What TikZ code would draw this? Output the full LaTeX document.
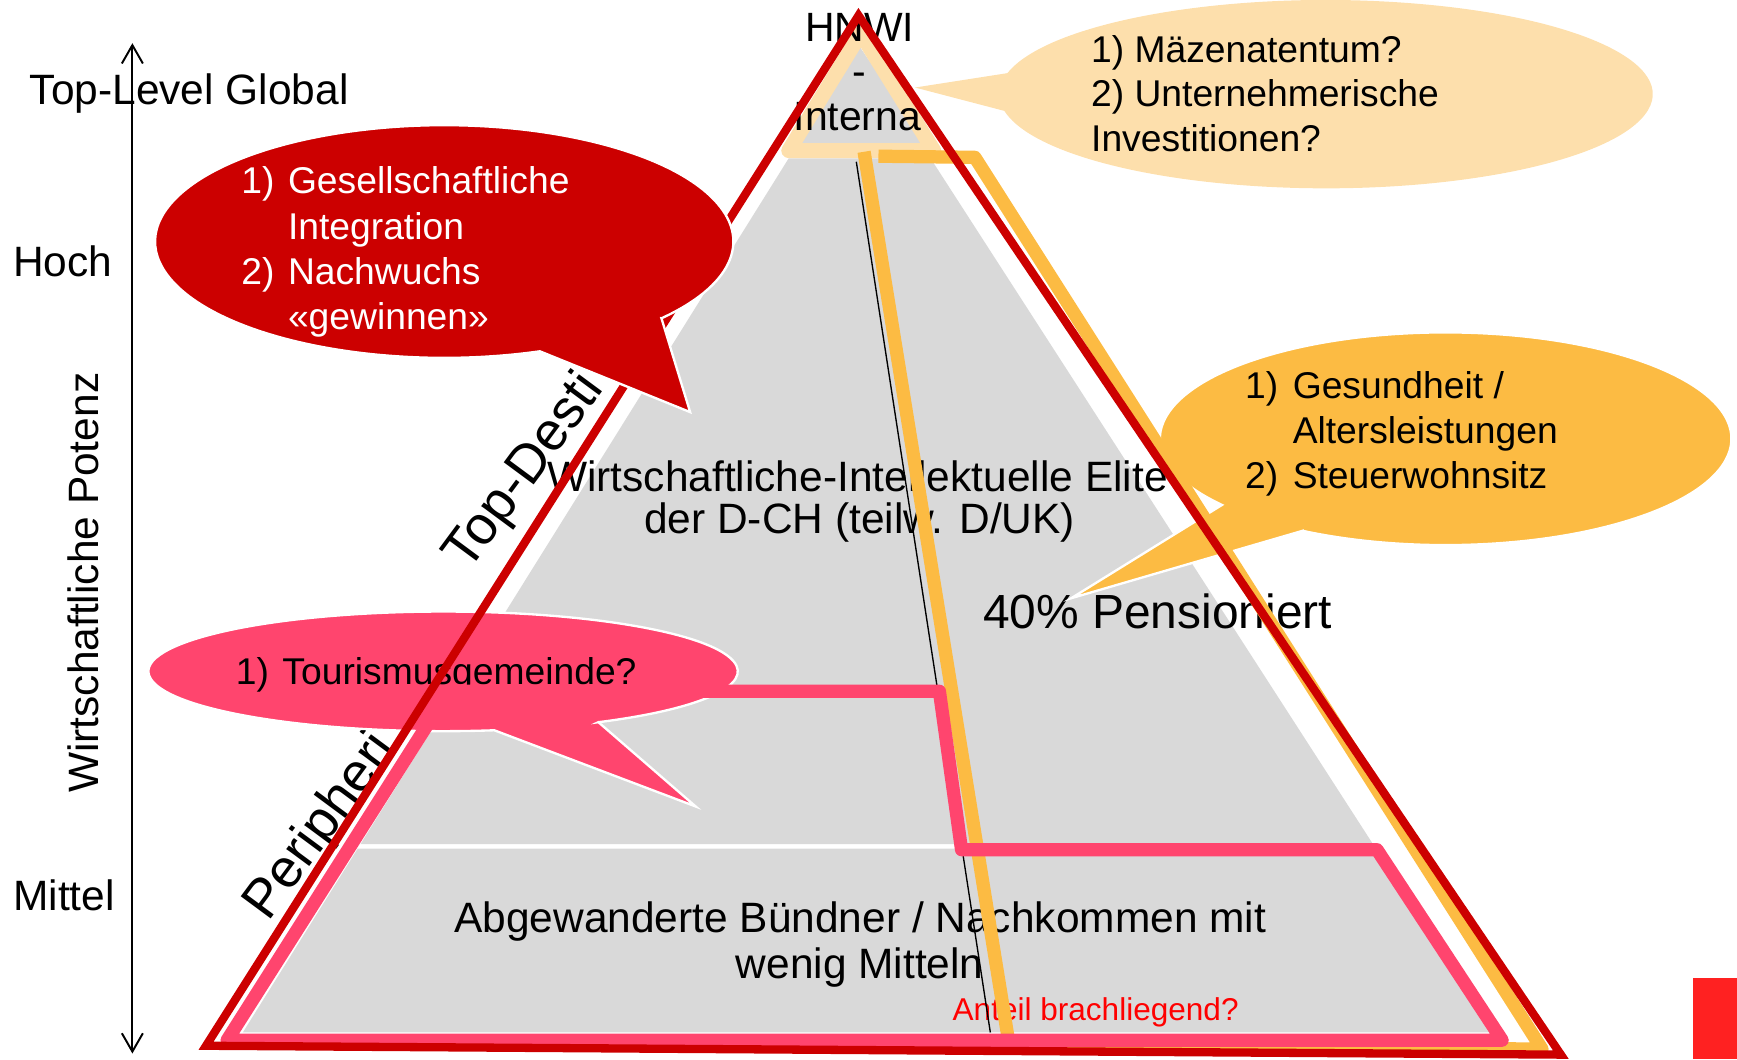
\documentclass[tikz,border=0pt]{standalone}
\usepackage{fontspec}
\setmainfont{Liberation Sans}
\usetikzlibrary{arrows.meta}
\definecolor{dred}{RGB}{204,0,0}
\definecolor{pinkc}{RGB}{255,69,110}
\definecolor{yel}{RGB}{252,187,67}
\definecolor{peach}{RGB}{253,223,172}
\definecolor{grayc}{RGB}{217,217,217}
\definecolor{tred}{RGB}{255,0,0}
\definecolor{sqred}{RGB}{255,33,33}
\begin{document}
\begin{tikzpicture}[x=0.01cm,y=-0.01cm,
  lbl/.style={inner sep=0pt, outer sep=0pt, font=\fontsize{10.9}{12}\selectfont},
  btxt/.style={inner sep=0pt, outer sep=0pt, font=\fontsize{9.56}{11}\selectfont, anchor=base west},
  rottxt/.style={inner sep=0pt, outer sep=0pt, font=\fontsize{13.9}{15}\selectfont, rotate=53.5, anchor=base west},
  bubble/.style={draw=white, line width=0.6pt},
  band/.style={line join=round, line cap=butt, line width=3.4pt},
  axisarrow/.style={line width=0.5pt, {Straight Barb[length=4.7pt,width=5.4pt]}-{Straight Barb[length=4.7pt,width=5.4pt]}}
]
\useasboundingbox (0,0) rectangle (1568,956);

% axis
\coordinate (axtop) at (119.5,39);
\coordinate (axbot) at (119.5,951);
\draw[axisarrow] (axtop) -- (axbot);

\node[lbl, anchor=base west] (toplevel) at (27,94) {Top-Level Global};
\node[lbl, anchor=base west] (hoch) at (12,250) {Hoch};
\node[lbl, anchor=base west] (mittel) at (12,822) {Mittel};
\node[lbl, anchor=base, rotate=90] (potenz) at (89,526) {Wirtschaftliche Potenz};

% rotated labels (visible parts)
\node[rottxt] (topdest) at (423,517) {Top-Desti};
\node[rottxt] (periph) at (242,833) {Peripheri};

% gray pyramid
\fill[grayc] (776,42) -- (835,129) -- (721,129) -- cycle;
\fill[grayc] (711.9,143) -- (840.1,143) -- (1239.4,762) -- (325.4,762) -- cycle;
\fill[grayc] (322.9,766) -- (1242,766) -- (1349,932) -- (219.2,932) -- cycle;

% peach outline of top section
\draw[peach, line width=3.84pt, line join=round] (777,30) -- (843,136) -- (712,136) -- cycle;

% pyramid texts
\node[lbl, anchor=base, font=\fontsize{10.5}{12}\selectfont] (hnwi1) at (776,37.6) {HNWI};
\node[lbl, anchor=base, font=\fontsize{10.5}{12}\selectfont] (hnwi2) at (776,77.5) {-};
\node[lbl, anchor=base, font=\fontsize{10.5}{12}\selectfont] (hnwi3) at (774,117.4) {Interna};
\node[lbl, anchor=base] (elite1) at (774,444) {Wirtschaftliche-Intellektuelle Elite};
\node[lbl, anchor=base] (elite2) at (776,481.4) {der D-CH (teilw. D/UK)};
\node[lbl, anchor=base, font=\fontsize{12.3}{14}\selectfont] (pens) at (1045,567) {40\% Pensioniert};
\node[lbl, anchor=base] (abg1) at (776.5,842) {Abgewanderte Bündner / Nachkommen mit};
\node[lbl, anchor=base] (abg2) at (776,883) {wenig Mitteln};
\node[lbl, anchor=base west, text=tred, font=\fontsize{8.1}{10}\selectfont] (anteil) at (860,921) {Anteil brachliegend?};

% peach bubble
\fill[peach] (906.7,100.1) -- (826,79) -- (909.4,66) arc[start angle=192.9, end angle=529.8, x radius=295, y radius=85] -- cycle;
\node[btxt] (pq1) at (985,56) {1) Mäzenatentum?};
\node[btxt] (pq2) at (985,96.5) {2) Unternehmerische};
\node[btxt] (pq3) at (985,137) {Investitionen?};

% orange bubble
\fill[yel, bubble] (1176,479.1) -- (967,540) -- (1103.1,455.8) arc[start angle=141.5, end angle=480, x radius=258, y radius=96] -- cycle;
\node[btxt] (oq1n) at (1124,360) {1)};
\node[btxt] (oq1t) at (1167,360) {Gesundheit /};
\node[btxt] (oq2t) at (1167,400) {Altersleistungen};
\node[btxt] (oq3n) at (1124,441) {2)};
\node[btxt] (oq3t) at (1167,441) {Steuerwohnsitz};

% pink bubble
\fill[pinkc, bubble] (540.2,651.9) -- (628,728) -- (446.2,659.2) arc[start angle=80, end angle=418.2, x radius=266, y radius=54] -- cycle;
\node[btxt] (kq1n) at (213,618) {1)};
\node[btxt] (kq1t) at (255,618) {Tourismusgemeinde?};

% lines
\draw[black, line width=0.35pt] (773,146) -- (894,932);
\draw[yel, band] (793,141) -- (880,142) -- (1392,947) -- (911,943) -- (780,137);
\draw[pinkc, band] (405,624) -- (848,624) -- (868,767) -- (1243,767) -- (1356,939) -- (205,939) -- cycle;
\draw[dred, line width=2.13pt] (775,14) -- (1409,952) -- (186,944) -- cycle;

% red bubble
\fill[dred, bubble] (597.1,287.3) -- (623,372) -- (487.3,317.1) arc[start angle=70.7, end angle=401.3, x radius=261, y radius=105] -- cycle;
\node[btxt, text=white] (rq1n) at (218,175) {1)};
\node[btxt, text=white] (rq1t) at (260,175) {Gesellschaftliche};
\node[btxt, text=white] (rq2t) at (260,216) {Integration};
\node[btxt, text=white] (rq3n) at (218,257) {2)};
\node[btxt, text=white] (rq3t) at (260,257) {Nachwuchs};
\node[btxt, text=white] (rq4t) at (260,297) {«gewinnen»};

% red square
\fill[sqred] (1528,883) rectangle (1568,956);
\end{tikzpicture}
\end{document}
